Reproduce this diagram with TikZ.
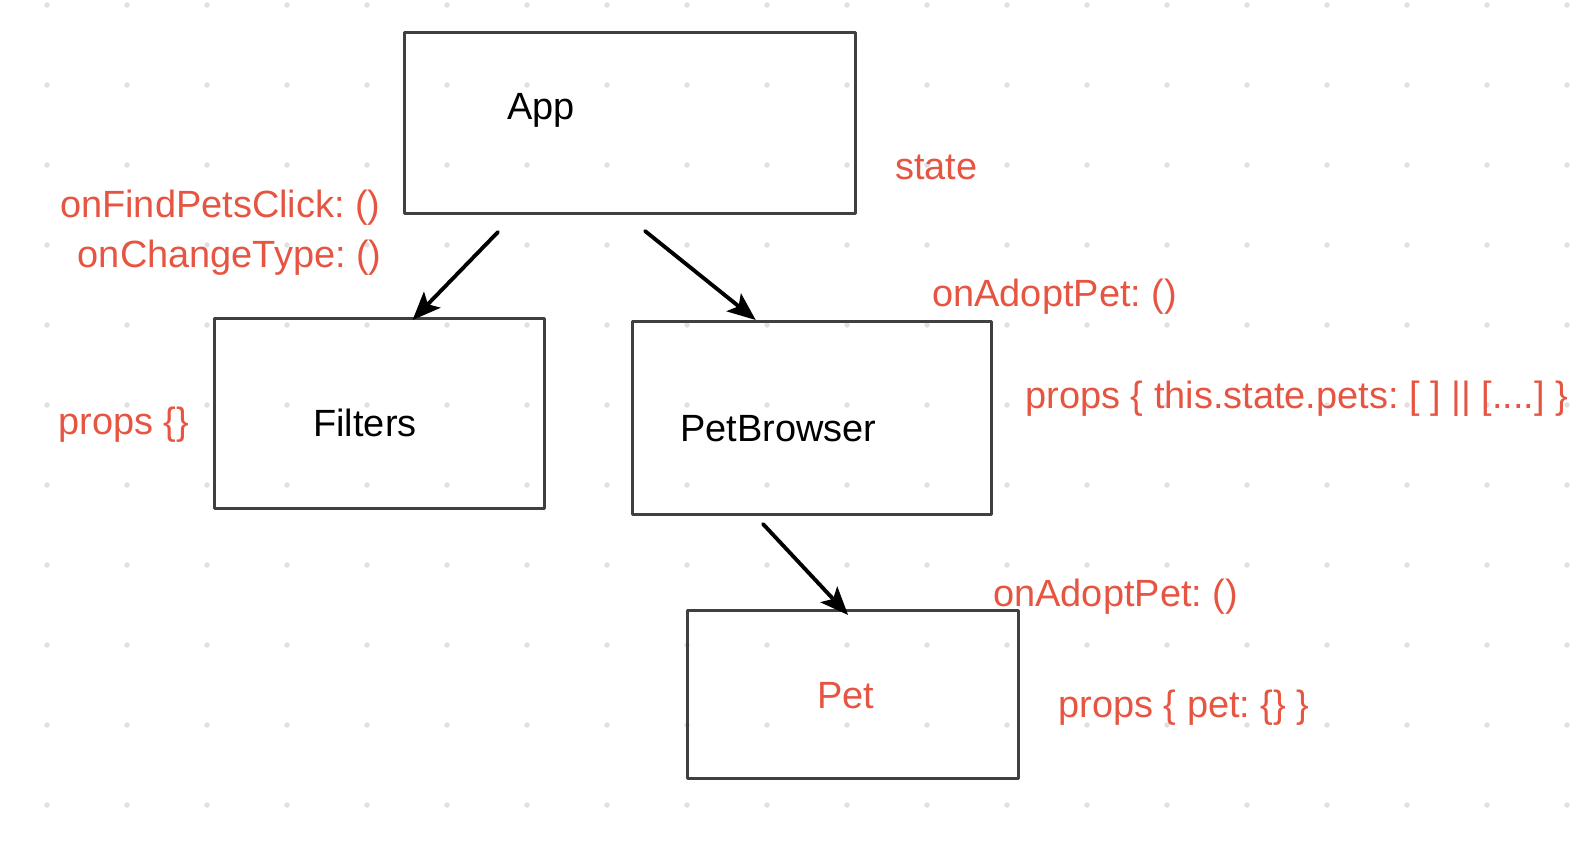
\documentclass[tikz,border=0pt]{standalone}
\usepackage{fontspec}
\setmainfont{Liberation Sans}
\frenchspacing
\usetikzlibrary{arrows.meta, positioning, calc}
\definecolor{notered}{RGB}{230,85,65}
\definecolor{griddot}{RGB}{224,224,224}

\begin{document}
\begin{tikzpicture}[x=0.02cm, y=-0.02cm, >=Stealth, line cap=round, line join=round]

% --------- styles ----------
\tikzset{
  box/.style={draw=black!75, line width=1.5pt, inner sep=0, anchor=north west},
  comptext/.style={font=\fontsize{21.6}{26}\selectfont, inner sep=0, anchor=base west},
  notetext/.style={comptext, text=notered},
  flow/.style={-{Stealth[length=16pt, width=13pt, inset=3.5pt]}, line width=2.2pt}
}
\def\dx{80}   % grid pitch

\useasboundingbox (0,0) rectangle (1586,854);

% --------- dot grid ----------
\foreach \i in {0,...,19}
  \foreach \j in {0,...,10}
    \fill[griddot] ({47+\dx*\i},{5+\dx*\j}) circle[radius=0.055cm];

% --------- components ----------
\node[box, minimum width=9.02cm, minimum height=3.62cm] (app)  at (403,31)  {};
\node[box, minimum width=6.6cm,  minimum height=3.8cm]  (filt) at (213,317) {};
\node[box, minimum width=7.18cm, minimum height=3.86cm] (pb)   at (631,320) {};
\node[box, minimum width=6.62cm, minimum height=3.36cm] (pet)  at (686,609) {};

\node[comptext] (appname)  at (507,120) {App};
\node[comptext] (filtname) at (313,437) {Filters};
\node[comptext] (pbname)   at (680,442) {PetBrowser};
\node[notetext] (petname)  at (817,708) {Pet};

% --------- props / state notes ----------
\node[notetext, anchor=base east] (findclick) at (381,218) {onFindPetsClick: ()};
\node[notetext, anchor=base east] (chgtype)   at (382,268) {onChangeType: ()};
\node[notetext] (propsfilt) at (58,435)   {props \{\}};
\node[notetext] (appstate)  at (895,180)  {state};
\node[notetext] (adoptpb)   at (932,307)  {onAdoptPet: ()};
\node[notetext] (propspb)   at (1025,409) {props \{ this.state.pets: [ ] || [....] \}};
\node[notetext] (adoptpet)  at (993,607)  {onAdoptPet: ()};
\node[notetext] (propspet)  at (1058,717) {props \{ pet: \{\} \}};

% --------- data flow ----------
\coordinate (fromapp1) at (498,232);
\coordinate (fromapp2) at (645,231);
\coordinate (frompb)   at (763,524);
\draw[flow] (fromapp1) -- ($(filt.north west)!0.6!(filt.north east)+(0,3)$);
\draw[flow] (fromapp2) -- ($(pb.north west)!0.345!(pb.north east)$);
\draw[flow] (frompb)   -- ($(pet.north west)!0.486!(pet.north east)+(0,6)$);

\end{tikzpicture}
\end{document}
